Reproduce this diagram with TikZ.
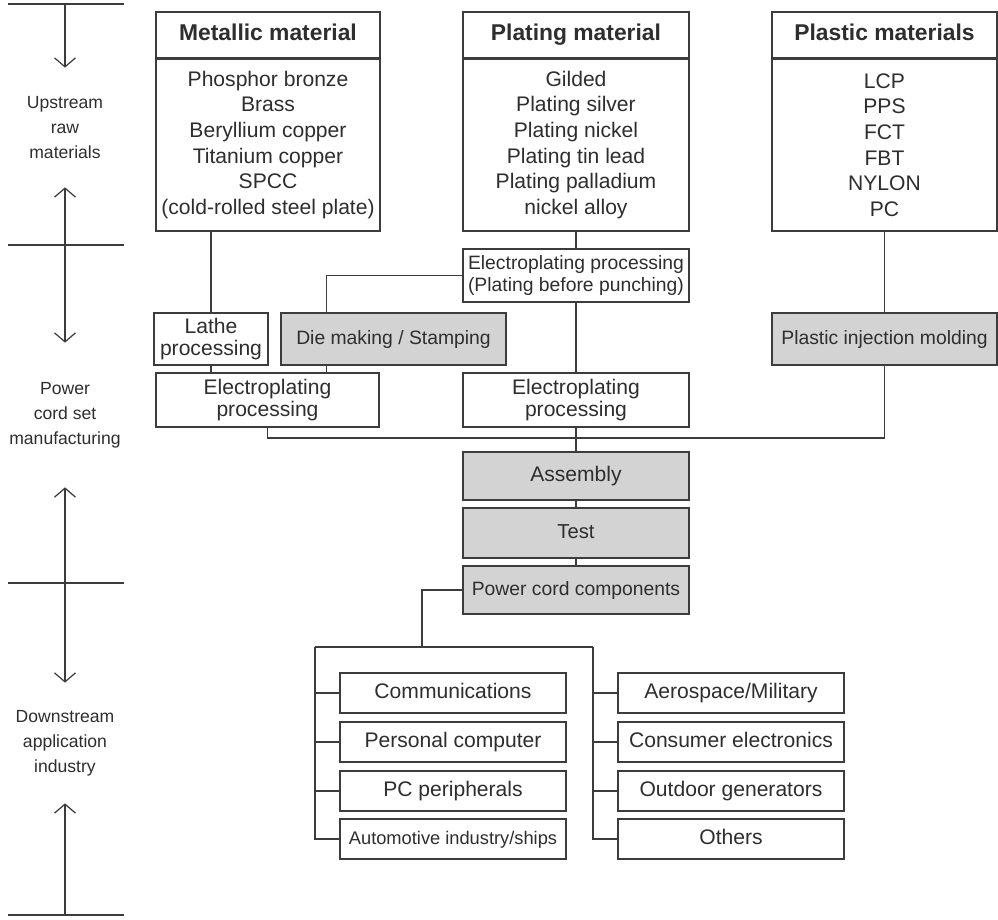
\documentclass[tikz,border=0pt]{standalone}
\usepackage{fontspec}
\setmainfont{Liberation Sans}
\usetikzlibrary{arrows.meta}
\definecolor{linegray}{HTML}{3C3C3C}
\definecolor{textgray}{HTML}{2E2E2E}
\definecolor{fillgray}{HTML}{D3D3D3}
\begin{document}
\begin{tikzpicture}[x=0.02cm,y=-0.02cm,
            box/.style={rectangle,draw=linegray,line width=0.7pt,fill=white,text=textgray,align=center,inner sep=0pt,minimum height=1.04cm,font=\fontsize{12}{13}\selectfont},
            gbox/.style={box,fill=fillgray,font=\fontsize{11.5}{13}\selectfont,text height=1.6ex,text depth=0.5ex},
            head/.style={box,minimum height=0.92cm,font=\bfseries\fontsize{13}{15}\selectfont,text height=1.6ex,text depth=0.5ex},
            list/.style={box,minimum height=3.44cm,font=\fontsize{12}{14.6}\selectfont},
            app/.style={box,minimum width=4.52cm,minimum height=0.8cm,text height=1.6ex,text depth=0.5ex},
            stage/.style={align=center,inner sep=0pt,text=textgray,font=\fontsize{10}{14.2}\selectfont},
            link/.style={draw=linegray,line width=0.7pt},
            axis/.style={link,-{Straight Barb[length=1.8mm,width=4.2mm]}}
        ]
            \fill[white] (0,0) rectangle (998,920);
            \useasboundingbox (0,0) rectangle (998,920);

            \node[head,minimum width=4.48cm] (metalhead) at (268,35) {Metallic material};
            \node[list,minimum width=4.48cm] (metalbody) at (268,145) {Phosphor bronze\\Brass\\Beryllium copper\\Titanium copper\\SPCC\\(cold-rolled steel plate)};
            \node[head,minimum width=4.52cm] (platinghead) at (576,35) {Plating material};
            \node[list,minimum width=4.52cm] (platingbody) at (576,145) {Gilded\\Plating silver\\Plating nickel\\Plating tin lead\\Plating palladium\\nickel alloy};
            \node[head,minimum width=4.5cm] (plastichead) at (884.5,35) {Plastic materials};
            \node[list,minimum width=4.5cm] (plasticbody) at (884.5,145) {LCP\\PPS\\FCT\\FBT\\NYLON\\PC};

            \node[box,font=\fontsize{11}{13}\selectfont,minimum width=4.52cm,minimum height=1.06cm] (eppre) at (576,275.5) {Electroplating processing\\(Plating before punching)};
            \node[box,minimum width=2.28cm] (lathe) at (211,339) {Lathe\\processing};
            \node[gbox,minimum width=4.5cm,font=\fontsize{11}{13}\selectfont] (die) at (393.5,339) {Die making / Stamping};
            \node[gbox,minimum width=4.5cm,font=\fontsize{11}{13}\selectfont] (inject) at (884.5,339) {Plastic injection molding};
            \node[box,minimum width=4.46cm,minimum height=1.08cm] (epleft) at (267.5,400) {Electroplating\\processing};
            \node[box,minimum width=4.52cm,minimum height=1.08cm] (epmid) at (576,400) {Electroplating\\processing};

            \node[gbox,minimum width=4.52cm,minimum height=0.96cm,font=\fontsize{12}{13}\selectfont] (assembly) at (576,476) {Assembly};
            \node[gbox,minimum width=4.52cm,minimum height=1cm] (test) at (576,533) {Test};
            \node[gbox,minimum width=4.52cm,minimum height=0.96cm,font=\fontsize{11}{13}\selectfont] (cord) at (576,590) {Power cord components};

            \node[app] (comm) at (453,693) {Communications};
            \node[app] (pc) at (453,742) {Personal computer};
            \node[app] (periph) at (453,791) {PC peripherals};
            \node[app,font=\fontsize{10.4}{12}\selectfont] (auto) at (453,839) {Automotive industry/ships};
            \node[app] (aero) at (731,693) {Aerospace/Military};
            \node[app] (consumer) at (731,742) {Consumer electronics};
            \node[app] (outdoor) at (731,791) {Outdoor generators};
            \node[app] (others) at (731,839) {Others};

            \coordinate (bus) at (576,438);
            \coordinate (split) at (422,647);
            \coordinate (lbus) at (315,647);
            \coordinate (rbus) at (593,647);

            \draw[link] (metalbody.south -| lathe.north) -- (lathe.north);
            \draw[link] (lathe.south) -- (lathe.south |- epleft.north);
            \draw[link] (platingbody.south) -- (eppre.north);
            \draw[link] (eppre.south) -- (epmid.north);
            \draw[link] (eppre.west) -| ([xshift=0.92cm]die.north west);
            \draw[link] ([xshift=0.92cm]die.south west) -- ([xshift=0.92cm]die.south west |- epleft.north);
            \draw[link] (plasticbody.south) -- (inject.north);
            \draw[link] (epleft.south) |- (bus) -| (inject.south);
            \draw[link] (epmid.south) -- (assembly.north);
            \draw[link] (assembly) -- (test);
            \draw[link] (test) -- (cord);
            \draw[link] (cord.west) -| (split);
            \draw[link] (lbus) -- (rbus);
            \draw[link] (lbus) |- (auto.west);
            \draw[link] (rbus) |- (others.west);
            \foreach \n in {comm,pc,periph} \draw[link] (lbus |- \n.west) -- (\n.west);
            \foreach \n in {aero,consumer,outdoor} \draw[link] (rbus |- \n.west) -- (\n.west);

            \foreach \y/\n in {4/0,245/1,583/2,915/3}{
                \coordinate (tick\n) at (65,\y);
                \draw[link] (8,\y) -- (124,\y);
            }
            \node[stage,minimum height=2.38cm] (upstream) at (65,127.5) {Upstream\\raw\\materials};
            \node[stage,minimum height=2.88cm] (making) at (65,415) {Power\\cord set\\manufacturing};
            \node[stage,minimum height=2.4cm] (downstream) at (65,743) {Downstream\\application\\industry};
            \draw[axis] (tick0) -- (upstream.north);
            \draw[axis] (tick1) -- (upstream.south);
            \draw[axis] (tick1) -- (making.north);
            \draw[axis] (tick2) -- (making.south);
            \draw[axis] (tick2) -- (downstream.north);
            \draw[axis] (tick3) -- (downstream.south);
        \end{tikzpicture}
\end{document}
